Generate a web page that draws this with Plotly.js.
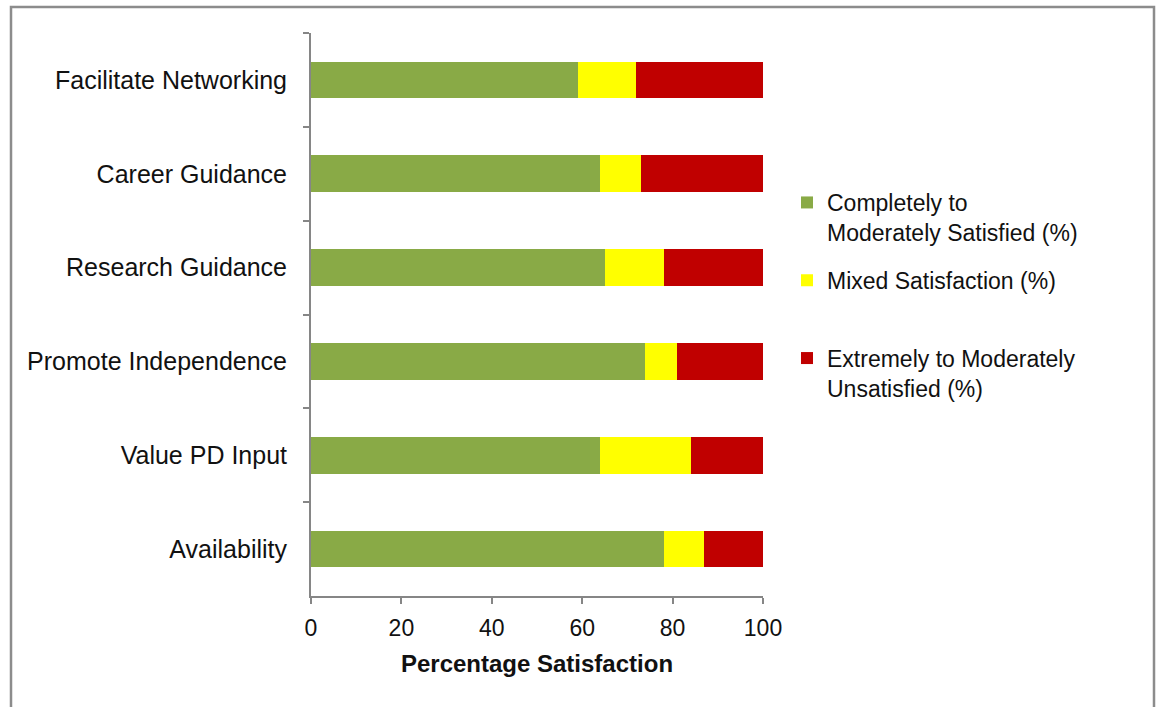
<!DOCTYPE html>
<html>
<head>
<meta charset="utf-8">
<script src="https://cdn.plot.ly/plotly-3.0.1.min.js"></script>
<style>
  html, body { margin: 0; padding: 0; background: #ffffff; }
  #chart { width: 1156px; height: 707px; }
</style>
</head>
<body>
<div id="chart"></div>
<script>
// Categories, top to bottom as shown
const categories = ["Facilitate Networking", "Career Guidance", "Research Guidance", "Promote Independence", "Value PD Input", "Availability"];

// Percentages
const satisfied   = [59, 64, 65, 74, 64, 78];
const mixed       = [13,  9, 13,  7, 20,  9];
const unsatisfied = [28, 27, 22, 19, 16, 13];

const seriesNames = [
  "Completely to<br>Moderately Satisfied (%)",
  "Mixed Satisfaction (%)<br><span style='color:rgba(0,0,0,0)'>.</span>",
  "Extremely to Moderately<br>Unsatisfied (%)"
];
const seriesColors = ["#89AA46", "#FFFF00", "#C00000"];
const xTicks = [0, 20, 40, 60, 80, 100];

const seriesValues = [satisfied, mixed, unsatisfied];
const traces = seriesValues.map((vals, i) => ({
  type: "bar",
  orientation: "h",
  name: seriesNames[i],
  y: categories,
  x: vals,
  marker: { color: seriesColors[i], line: { width: 0 } },
  hoverinfo: "x+y",
  legendgroup: "g" + i
}));

const font = { family: "Liberation Sans, Arial, sans-serif", size: 23, color: "#111111" };
const yFont = { family: "Liberation Sans, Arial, sans-serif", size: 25, color: "#111111" };

// plot area in pixels: x 311..763, y 33..596
const W = 1156, H = 707, L = 311, R = 763, T = 33, B = 596;
const px = v => (v - L) / (R - L);
const py = v => (B - v) / (B - T);

const layout = {
  width: W, height: H,
  margin: { l: L, r: W - R, t: T, b: H - B, pad: 0 },
  paper_bgcolor: "#ffffff",
  plot_bgcolor: "#ffffff",
  barmode: "stack",
  bargap: 0.61,
  font: font,
  showlegend: true,
  legend: {
    x: px(787), y: py(181), xanchor: "left", yanchor: "top",
    font: font,
    valign: "top",
    traceorder: "grouped",
    tracegroupgap: 15,
    bgcolor: "rgba(0,0,0,0)"
  },
  xaxis: {
    range: [0, 100],
    tickvals: xTicks,
    ticktext: xTicks.map(String),
    showgrid: false,
    zeroline: false,
    showline: true,
    linecolor: "#868686",
    linewidth: 2,
    ticks: "outside",
    ticklen: 6,
    tickwidth: 2,
    tickcolor: "#868686",
    tickfont: font,
    ticklabelstandoff: 4,
    title: { text: "<b>Percentage Satisfaction</b>", font: { family: font.family, size: 24, color: "#111111" }, standoff: 16 },
    fixedrange: true
  },
  yaxis: {
    type: "category",
    autorange: "reversed",
    showgrid: false,
    zeroline: false,
    showline: true,
    linecolor: "#868686",
    linewidth: 2,
    ticks: "outside",
    tickson: "boundaries",
    ticklen: 6,
    tickwidth: 2,
    tickcolor: "#868686",
    tickfont: yFont,
    ticklabelstandoff: 17,
    fixedrange: true
  },
  shapes: [{
    type: "rect", xref: "paper", yref: "paper",
    x0: px(11), x1: px(1154), y0: py(712), y1: py(7),
    line: { color: "#8C8C8C", width: 2.5 },
    fillcolor: "rgba(0,0,0,0)",
    layer: "below"
  }]
};

Plotly.newPlot("chart", traces, layout, { displayModeBar: false, staticPlot: false });
</script>
</body>
</html>
